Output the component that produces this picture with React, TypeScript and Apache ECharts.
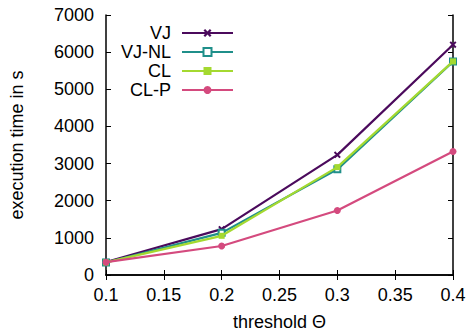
import React, { useEffect, useRef } from "react";
import * as echarts from "echarts";

const thresholds = [0.1, 0.2, 0.3, 0.4];
const vj = [350, 1235, 3235, 6200];
const vjNl = [335, 1135, 2845, 5745];
const cl = [340, 1055, 2905, 5750];
const clP = [345, 780, 1735, 3325];
const seriesNames = ["VJ", "VJ-NL", "CL", "CL-P"];
const colors = ["#4b0a5c", "#1f8f8a", "#a4d930", "#d44a7e"];

const FONT = "Liberation Sans, Arial, sans-serif";
const crossPath =
  "path://M0,2L2,0L5,3L8,0L10,2L7,5L10,8L8,10L5,7L2,10L0,8L3,5Z";

export default function App() {
  const ref = useRef<HTMLDivElement>(null);
  useEffect(() => {
    if (!ref.current) return;
    const chart = echarts.init(ref.current, null, { renderer: "svg" });
    const datasets = [vj, vjNl, cl, clP];
    const symbols = [crossPath, "emptyRect", "rect", "circle"];
    const sizes = [7, 6, 6, 7];
    const rowY = [29, 48, 67, 86];
    const axisLine = { show: true, lineStyle: { color: "#000", width: 1.5 } };
    const tickStyle = { show: true, inside: true, length: 5, lineStyle: { color: "#000", width: 1 } };
    const fmt = (v: number) => String(Math.round(v * 100) / 100);
    chart.setOption({
      animation: false,
      textStyle: { fontFamily: FONT },
      grid: { left: 104, right: 16, top: 15, bottom: 60 },
      legend: seriesNames.map((n, i) => ({
        data: [n],
        orient: "vertical",
        align: "right",
        right: 235,
        top: rowY[i] - 5,
        padding: 0,
        itemWidth: 51,
        itemHeight: 10,
        selectedMode: false,
        textStyle: { fontSize: 18, color: "#000", fontFamily: FONT, padding: [0, 6, 0, 0] },
      })),
      xAxis: [
        {
          type: "value",
          min: 0.1,
          max: 0.4,
          interval: 0.05,
          name: "threshold Θ",
          nameLocation: "middle",
          nameGap: 38,
          nameTextStyle: { fontSize: 18, color: "#000", fontFamily: FONT },
          axisLine,
          axisTick: tickStyle,
          splitLine: { show: false },
          axisLabel: { fontSize: 18, color: "#000", margin: 11, formatter: fmt, fontFamily: FONT },
        },
        {
          type: "value",
          position: "top",
          min: 0.1,
          max: 0.4,
          interval: 0.05,
          axisLine,
          axisTick: tickStyle,
          splitLine: { show: false },
          axisLabel: { show: false },
        },
      ],
      yAxis: [
        {
          type: "value",
          min: 0,
          max: 7000,
          interval: 1000,
          name: "execution time in s",
          nameLocation: "middle",
          nameGap: 80,
          nameRotate: 90,
          nameTextStyle: { fontSize: 18, color: "#000", fontFamily: FONT },
          axisLine,
          axisTick: tickStyle,
          splitLine: { show: false },
          axisLabel: { fontSize: 18, color: "#000", margin: 12, fontFamily: FONT, formatter: (v: number) => String(v) },
        },
        {
          type: "value",
          position: "right",
          min: 0,
          max: 7000,
          interval: 1000,
          axisLine,
          axisTick: tickStyle,
          splitLine: { show: false },
          axisLabel: { show: false },
        },
      ],
      series: seriesNames.map((n, i) => ({
        name: n,
        type: "line",
        xAxisIndex: 0,
        yAxisIndex: 0,
        data: thresholds.map((t, j) => [t, datasets[i][j]]),
        symbol: symbols[i],
        symbolSize: sizes[i],
        showAllSymbol: true,
        color: colors[i],
        lineStyle: { color: colors[i], width: 2.2 },
        itemStyle: { color: colors[i], borderColor: colors[i], borderWidth: i === 1 ? 2 : 0 },
        z: 2 + i,
      })),
    });
    return () => chart.dispose();
  }, []);
  return <div ref={ref} style={{ width: 469, height: 336, position: "absolute", left: 0, top: 0 }} />;
}
